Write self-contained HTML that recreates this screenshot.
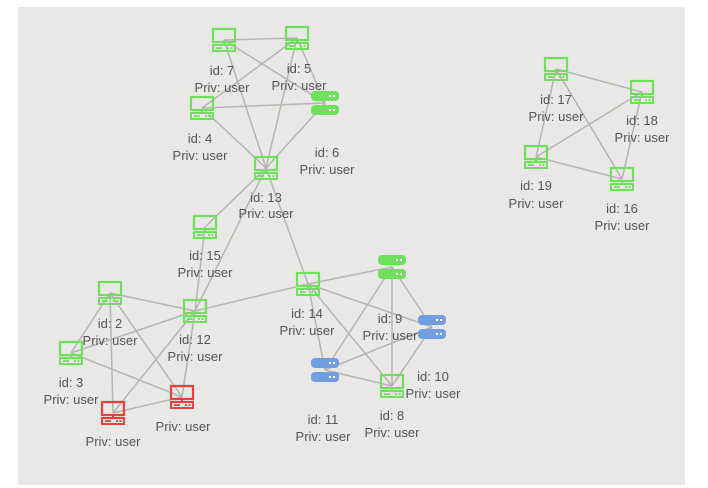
<!DOCTYPE html>
<html><head><style>
html,body{margin:0;padding:0;background:#fff;}
svg{display:block;}
text{font-family:"Liberation Sans",sans-serif;font-size:13px;fill:#555;text-anchor:middle;}
</style></head><body>
<svg width="708" height="488" viewBox="0 0 708 488" xmlns="http://www.w3.org/2000/svg">
<defs>
<g id="pc">
<rect x="-11" y="-11" width="22" height="13" fill="none" stroke-width="2.2"/>
<line x1="0" y1="2" x2="0" y2="5" stroke-width="2"/>
<rect x="-11" y="5" width="22" height="6" fill="none" stroke-width="2"/>
<rect x="-8" y="7.2" width="6" height="1.8" stroke="none"/>
<rect x="3" y="7.2" width="2" height="1.8" stroke="none"/>
<rect x="6.5" y="7.2" width="2" height="1.8" stroke="none"/>
</g>
<g id="srv">
<rect x="-14" y="-12" width="28" height="10" rx="4" stroke="none"/>
<rect x="-14" y="2" width="28" height="10" rx="4" stroke="none"/>
<rect x="4" y="-8" width="2" height="2" fill="#fff" stroke="none"/>
<rect x="8" y="-8" width="2" height="2" fill="#fff" stroke="none"/>
<rect x="4" y="6" width="2" height="2" fill="#fff" stroke="none"/>
<rect x="8" y="6" width="2" height="2" fill="#fff" stroke="none"/>
</g>
</defs>
<rect x="18" y="7" width="667" height="478" fill="#e9e8e6"/>
<g stroke="#b5b4b2" stroke-width="1.5">
<line x1="224" y1="40" x2="297" y2="38"/>
<line x1="224" y1="40" x2="266" y2="168"/>
<line x1="224" y1="40" x2="325" y2="103"/>
<line x1="297" y1="38" x2="202" y2="108"/>
<line x1="297" y1="38" x2="266" y2="168"/>
<line x1="297" y1="38" x2="325" y2="103"/>
<line x1="202" y1="108" x2="325" y2="103"/>
<line x1="202" y1="108" x2="266" y2="168"/>
<line x1="325" y1="103" x2="266" y2="168"/>
<line x1="266" y1="168" x2="205" y2="227"/>
<line x1="266" y1="168" x2="195" y2="311"/>
<line x1="266" y1="168" x2="308" y2="284"/>
<line x1="205" y1="227" x2="195" y2="311"/>
<line x1="308" y1="284" x2="195" y2="311"/>
<line x1="308" y1="284" x2="392" y2="267"/>
<line x1="308" y1="284" x2="432" y2="327"/>
<line x1="308" y1="284" x2="392" y2="386"/>
<line x1="308" y1="284" x2="325" y2="370"/>
<line x1="392" y1="267" x2="325" y2="370"/>
<line x1="392" y1="267" x2="392" y2="386"/>
<line x1="392" y1="267" x2="432" y2="327"/>
<line x1="325" y1="370" x2="432" y2="327"/>
<line x1="325" y1="370" x2="392" y2="386"/>
<line x1="432" y1="327" x2="392" y2="386"/>
<line x1="195" y1="311" x2="110" y2="293"/>
<line x1="195" y1="311" x2="71" y2="353"/>
<line x1="195" y1="311" x2="113" y2="413"/>
<line x1="195" y1="311" x2="182" y2="397"/>
<line x1="110" y1="293" x2="71" y2="353"/>
<line x1="110" y1="293" x2="113" y2="413"/>
<line x1="110" y1="293" x2="182" y2="397"/>
<line x1="71" y1="353" x2="182" y2="397"/>
<line x1="113" y1="413" x2="182" y2="397"/>
<line x1="556" y1="69" x2="642" y2="92"/>
<line x1="556" y1="69" x2="536" y2="157"/>
<line x1="556" y1="69" x2="622" y2="179"/>
<line x1="642" y1="92" x2="536" y2="157"/>
<line x1="642" y1="92" x2="622" y2="179"/>
<line x1="536" y1="157" x2="622" y2="179"/>
</g>
<g stroke="#6fe05c" fill="#6fe05c">
<use href="#pc" x="224" y="40"/><use href="#pc" x="297" y="38"/><use href="#pc" x="202" y="108"/>
<use href="#pc" x="266" y="168"/><use href="#pc" x="205" y="227"/><use href="#pc" x="308" y="284"/>
<use href="#pc" x="392" y="386"/><use href="#pc" x="110" y="293"/><use href="#pc" x="195" y="311"/>
<use href="#pc" x="71" y="353"/><use href="#pc" x="556" y="69"/><use href="#pc" x="642" y="92"/>
<use href="#pc" x="536" y="157"/><use href="#pc" x="622" y="179"/>
<use href="#srv" x="325" y="103"/><use href="#srv" x="392" y="267"/>
</g>
<g stroke="#e8403a" fill="#e8403a">
<use href="#pc" x="113" y="413"/><use href="#pc" x="182" y="397"/>
</g>
<g fill="#6f9fe0">
<use href="#srv" x="432" y="327"/><use href="#srv" x="325" y="370"/>
</g>
<text x="222" y="75">id: 7</text><text x="222" y="92">Priv: user</text>
<text x="299" y="73">id: 5</text><text x="299" y="90">Priv: user</text>
<text x="200" y="143">id: 4</text><text x="200" y="160">Priv: user</text>
<text x="327" y="157">id: 6</text><text x="327" y="174">Priv: user</text>
<text x="266" y="202">id: 13</text><text x="266" y="218">Priv: user</text>
<text x="205" y="260">id: 15</text><text x="205" y="277">Priv: user</text>
<text x="307" y="318">id: 14</text><text x="307" y="335">Priv: user</text>
<text x="390" y="323">id: 9</text><text x="390" y="340">Priv: user</text>
<text x="433" y="381">id: 10</text><text x="433" y="398">Priv: user</text>
<text x="323" y="424">id: 11</text><text x="323" y="441">Priv: user</text>
<text x="392" y="420">id: 8</text><text x="392" y="437">Priv: user</text>
<text x="110" y="328">id: 2</text><text x="110" y="345">Priv: user</text>
<text x="195" y="344">id: 12</text><text x="195" y="361">Priv: user</text>
<text x="71" y="387">id: 3</text><text x="71" y="404">Priv: user</text>
<text x="113" y="446">Priv: user</text>
<text x="183" y="431">Priv: user</text>
<text x="556" y="104">id: 17</text><text x="556" y="121">Priv: user</text>
<text x="642" y="125">id: 18</text><text x="642" y="142">Priv: user</text>
<text x="536" y="190">id: 19</text><text x="536" y="208">Priv: user</text>
<text x="622" y="213">id: 16</text><text x="622" y="230">Priv: user</text>
</svg>
</body></html>
